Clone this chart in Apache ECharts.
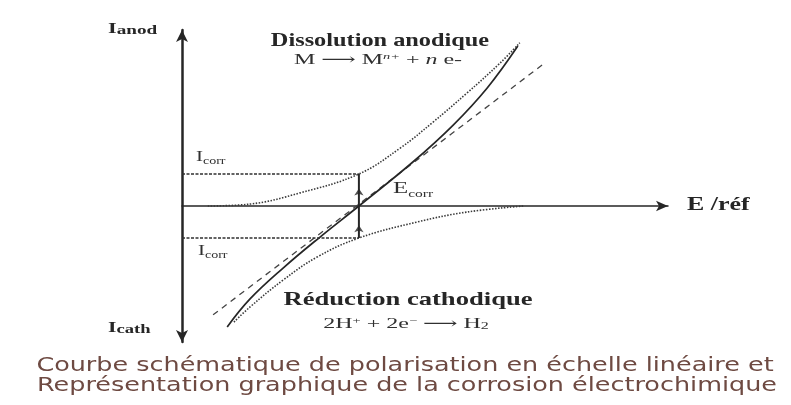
<!DOCTYPE html>
<html>
<head>
<meta charset="utf-8">
<script src="https://cdn.jsdelivr.net/npm/echarts@6/dist/echarts.min.js"></script>
<style>
  html, body { margin: 0; padding: 0; background: #ffffff; }
  #chart { width: 791px; height: 405px; }
</style>
</head>
<body>
<div id="chart"></div>
<script>
// Potential (E) and current (I) values, in arbitrary schematic units
const Ecorr = 3.64;
const Icorr = 2.0;

// anodic partial curve (dissolution)
const anodicE = [0.53, 1.4, 2.43, 3.64, 4.49, 5.16, 5.86, 6.54, 6.95];
const anodicI = [0, 0.12, 0.82, 2.0, 3.62, 5.23, 7.05, 8.92, 10.2];

// cathodic partial curve (reduction)
const cathodicE = [7.02, 5.86, 4.84, 3.64, 2.78, 2.08, 1.4, 1.05];
const cathodicI = [0, -0.38, -1.0, -2.0, -3.19, -4.63, -6.31, -7.31];

// measured (total) polarisation curve
const totalE = [0.93, 1.4, 2.08, 2.84, 3.64, 4.75, 5.58, 6.28, 6.91];
const totalI = [-7.56, -5.81, -3.88, -1.94, 0, 2.75, 5.06, 7.38, 10.0];

// straight line through the corrosion point
const tangentE = [0.64, 7.47];
const tangentI = [-6.8, 8.95];

const pairs = (xs, ys) => xs.map((x, i) => [x, ys[i]]);

const ink = '#262626';
const soft = '#303030';
const serif = '"Liberation Serif", "DejaVu Serif", serif';
const sans = '"DejaVu Sans", Verdana, sans-serif';

// helper: a text element anchored at (x, y), stretched horizontally
function label(x, y, sx, style) {
  return {
    type: 'text', x: x, y: y, scaleX: sx, scaleY: 1,
    style: Object.assign({ textVerticalAlign: 'middle' }, style)
  };
}

function subscripted(main, sub, mainFont, subFont, color, drop) {
  return {
    text: '{a|' + main + '}{b|' + sub + '}',
    rich: {
      a: { font: mainFont, fill: color, verticalAlign: 'bottom' },
      b: { font: subFont, fill: color, verticalAlign: 'bottom', padding: [0, 0, -drop, 0] }
    }
  };
}

const chart = echarts.init(document.getElementById('chart'), null, { renderer: 'canvas' });

chart.setOption({
  backgroundColor: '#ffffff',
  animation: false,
  grid: { left: 182, right: 123, top: 30, bottom: 63 },
  xAxis: {
    type: 'value', min: 0, max: 10,
    axisLine: {
      show: true, onZero: true,
      symbol: ['none', 'arrow'], symbolSize: [8, 12],
      lineStyle: { color: ink, width: 1.5 }
    },
    axisTick: { show: false }, axisLabel: { show: false }, splitLine: { show: false }
  },
  yAxis: {
    type: 'value', min: -8.5, max: 11,
    axisLine: {
      show: true, onZero: true,
      symbol: ['arrow', 'arrow'], symbolSize: [9, 12],
      lineStyle: { color: ink, width: 2.5 }
    },
    axisTick: { show: false }, axisLabel: { show: false }, splitLine: { show: false }
  },
  series: [
    {
      name: 'anodique', type: 'line', smooth: 0.4, showSymbol: false,
      data: pairs(anodicE, anodicI),
      lineStyle: { color: '#3a3a3a', width: 1.6, type: [1.5, 1.5] }
    },
    {
      name: 'cathodique', type: 'line', smooth: 0.4, showSymbol: false,
      data: pairs(cathodicE, cathodicI),
      lineStyle: { color: '#3a3a3a', width: 1.6, type: [1.5, 1.5] }
    },
    {
      name: 'tangente', type: 'line', showSymbol: false,
      data: pairs(tangentE, tangentI),
      lineStyle: { color: '#444', width: 1.3, type: [6, 5] }
    },
    {
      name: 'totale', type: 'line', smooth: 0.4, showSymbol: false,
      data: pairs(totalE, totalI),
      lineStyle: { color: ink, width: 1.7 }
    },
    {
      name: 'Icorr+', type: 'line', showSymbol: false,
      data: [[0, Icorr], [Ecorr, Icorr]],
      lineStyle: { color: soft, width: 1.6, type: [3, 1.5] }
    },
    {
      name: 'Icorr-', type: 'line', showSymbol: false,
      data: [[0, -Icorr], [Ecorr, -Icorr]],
      lineStyle: { color: soft, width: 1.6, type: [3, 1.5] }
    },
    {
      name: 'Ecorr', type: 'line', showSymbol: false,
      data: [[Ecorr, -Icorr], [Ecorr, Icorr]],
      lineStyle: { color: ink, width: 2 }
    },
    {
      name: 'marques', type: 'scatter',
      symbol: 'arrow', symbolSize: [7, 7],
      data: [
        { value: [Ecorr, Icorr * 0.55], symbolRotate: 0 },
        { value: [Ecorr, -Icorr * 0.6], symbolRotate: 0 }
      ],
      itemStyle: { color: ink }
    }
  ],
  graphic: [
    label(108, 29, 1.6, subscripted('I', 'anod', 'bold 14px ' + serif, 'bold 12px ' + serif, ink, 1)),
    label(108, 328, 1.55, subscripted('I', 'cath', 'bold 14px ' + serif, 'bold 12px ' + serif, ink, 1)),
    label(380, 41, 1.28, {
      text: 'Dissolution anodique', font: 'bold 19px ' + serif, fill: ink, textAlign: 'center'
    }),
    label(378, 60, 1.6, {
      text: '{r|M ⟶ M}{s|n+}{r| + }{i|n}{r| e-}',
      textAlign: 'center',
      rich: {
        r: { font: '15px ' + serif, fill: soft },
        s: { font: 'italic 9px ' + serif, fill: soft, padding: [0, 0, 7, 0] },
        i: { font: 'italic 15px ' + serif, fill: soft }
      }
    }),
    label(408, 300, 1.4, {
      text: 'Réduction cathodique', font: 'bold 19px ' + serif, fill: ink, textAlign: 'center'
    }),
    label(406, 324, 1.6, {
      text: '{r|2H}{s|+}{r| + 2e}{s|−}{r| ⟶ H}{d|2}',
      textAlign: 'center',
      rich: {
        r: { font: '15px ' + serif, fill: soft },
        s: { font: '9px ' + serif, fill: soft, padding: [0, 0, 7, 0] },
        d: { font: '10px ' + serif, fill: soft, padding: [5, 0, 0, 0] }
      }
    }),
    label(196, 157, 1.4, subscripted('I', 'corr', '15px ' + serif, '10px ' + serif, soft, 2)),
    label(198, 251, 1.4, subscripted('I', 'corr', '15px ' + serif, '10px ' + serif, soft, 2)),
    label(393, 189, 1.55, subscripted('E', 'corr', '16px ' + serif, '10px ' + serif, soft, 2)),
    label(687, 205, 1.44, { text: 'E /réf', font: 'bold 18px ' + serif, fill: ink, textAlign: 'left' }),
    label(405, 366, 1.34, {
      text: 'Courbe schématique de polarisation en échelle linéaire et',
      font: '19px ' + sans, fill: '#6e4a42', textAlign: 'center'
    }),
    label(407, 386, 1.34, {
      text: 'Représentation graphique de la corrosion électrochimique',
      font: '19px ' + sans, fill: '#6e4a42', textAlign: 'center'
    })
  ]
});
</script>
</body>
</html>
